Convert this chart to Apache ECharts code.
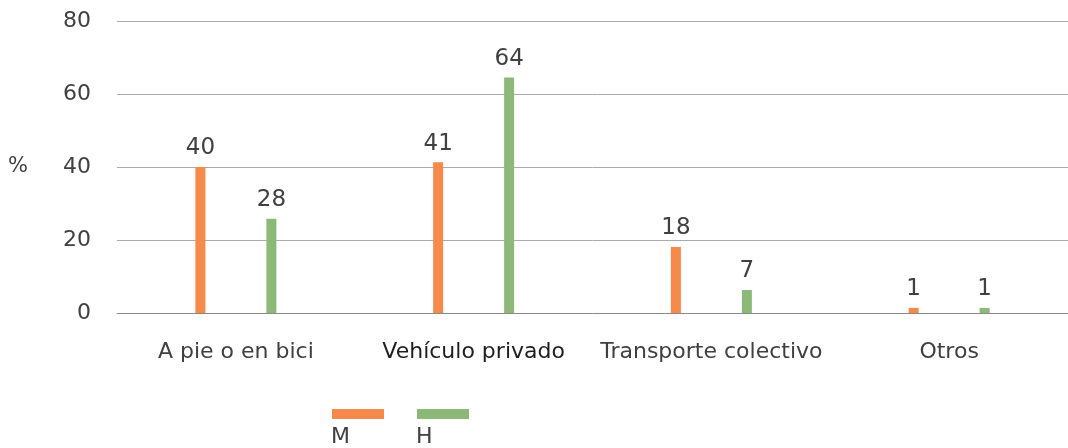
<!DOCTYPE html>
<html>
<head>
<meta charset="utf-8">
<script src="https://cdn.jsdelivr.net/npm/echarts@6/dist/echarts.min.js"></script>
<style>
  html, body { margin: 0; padding: 0; background: #fff; }
  #chart { width: 1068px; height: 448px; }
</style>
</head>
<body>
<div id="chart"></div>
<script>
// categories and values
var categories = ['A pie o en bici', 'Vehículo privado', 'Transporte colectivo', 'Otros'];
var seriesNames = ['M', 'H'];
var valuesM = [40, 41.3, 18.1, 1.4];
var valuesH = [25.8, 64.5, 6.3, 1.4];
var labelsM = ['40', '41', '18', '1'];
var labelsH = ['28', '64', '7', '1'];
var yTicks = [0, 20, 40, 60, 80];

var colors = ['#f58a4b', '#8cb878'];
var textColor = '#404040';
var font = 'DejaVu Sans';

function barSeries(name, values, labels, color) {
	return {
		name : name,
		type : 'bar',
		barWidth : 10,
		barGap : '610%',
		data : values,
		itemStyle : { color : color },
		label : {
			show : true,
			position : 'top',
			distance : 7,
			color : textColor,
			fontSize : 23,
			fontFamily : font,
			formatter : function (p) { return labels[p.dataIndex]; }
		}
	};
}

// the second category is printed a little darker in the original
var xData = categories.map(function (c, i) {
	return i === 1 ? { value : c, textStyle : { color : '#1e1e1e' } } : c;
});

var myChart = echarts.init(document.getElementById('chart'));

var chartOption = {
	animation : false,
	grid : { left : 117, right : 0, top : 21, bottom : 135 },
	legend : [
		{
			// colour swatches
			data : seriesNames,
			left : 332, top : 409, padding : 0,
			icon : 'rect',
			itemWidth : 52, itemHeight : 10, itemGap : 28,
			formatter : function () { return ''; },
			textStyle : { fontSize : 1, lineHeight : 1 }
		},
		{
			// names under the swatches (swatch hidden)
			data : seriesNames,
			left : 274, top : 426, padding : 0,
			icon : 'rect',
			itemWidth : 52, itemHeight : 10, itemGap : 9,
			itemStyle : { opacity : 0 },
			textStyle : { width : 23, fontSize : 22, color : textColor, fontFamily : font }
		}
	],
	xAxis : {
		type : 'category',
		data : xData,
		axisTick : { show : false },
		axisLine : { lineStyle : { color : '#8a8a8a', width : 1 } },
		axisLabel : {
			interval : 0,
			margin : 28,
			fontSize : 22,
			color : textColor,
			fontFamily : font
		}
	},
	yAxis : {
		type : 'value',
		min : yTicks[0],
		max : yTicks[yTicks.length - 1],
		interval : 20,
		name : '%',
		nameLocation : 'middle',
		nameRotate : 0,
		nameGap : 89,
		nameTextStyle : { fontSize : 21, color : textColor, fontFamily : font },
		axisLabel : { margin : 26, fontSize : 22, color : textColor, fontFamily : font },
		splitLine : { lineStyle : { color : '#ababab', width : 1 } }
	},
	series : [
		barSeries(seriesNames[0], valuesM, labelsM, colors[0]),
		barSeries(seriesNames[1], valuesH, labelsH, colors[1])
	]
};

myChart.setOption(chartOption);
</script>
</body>
</html>
